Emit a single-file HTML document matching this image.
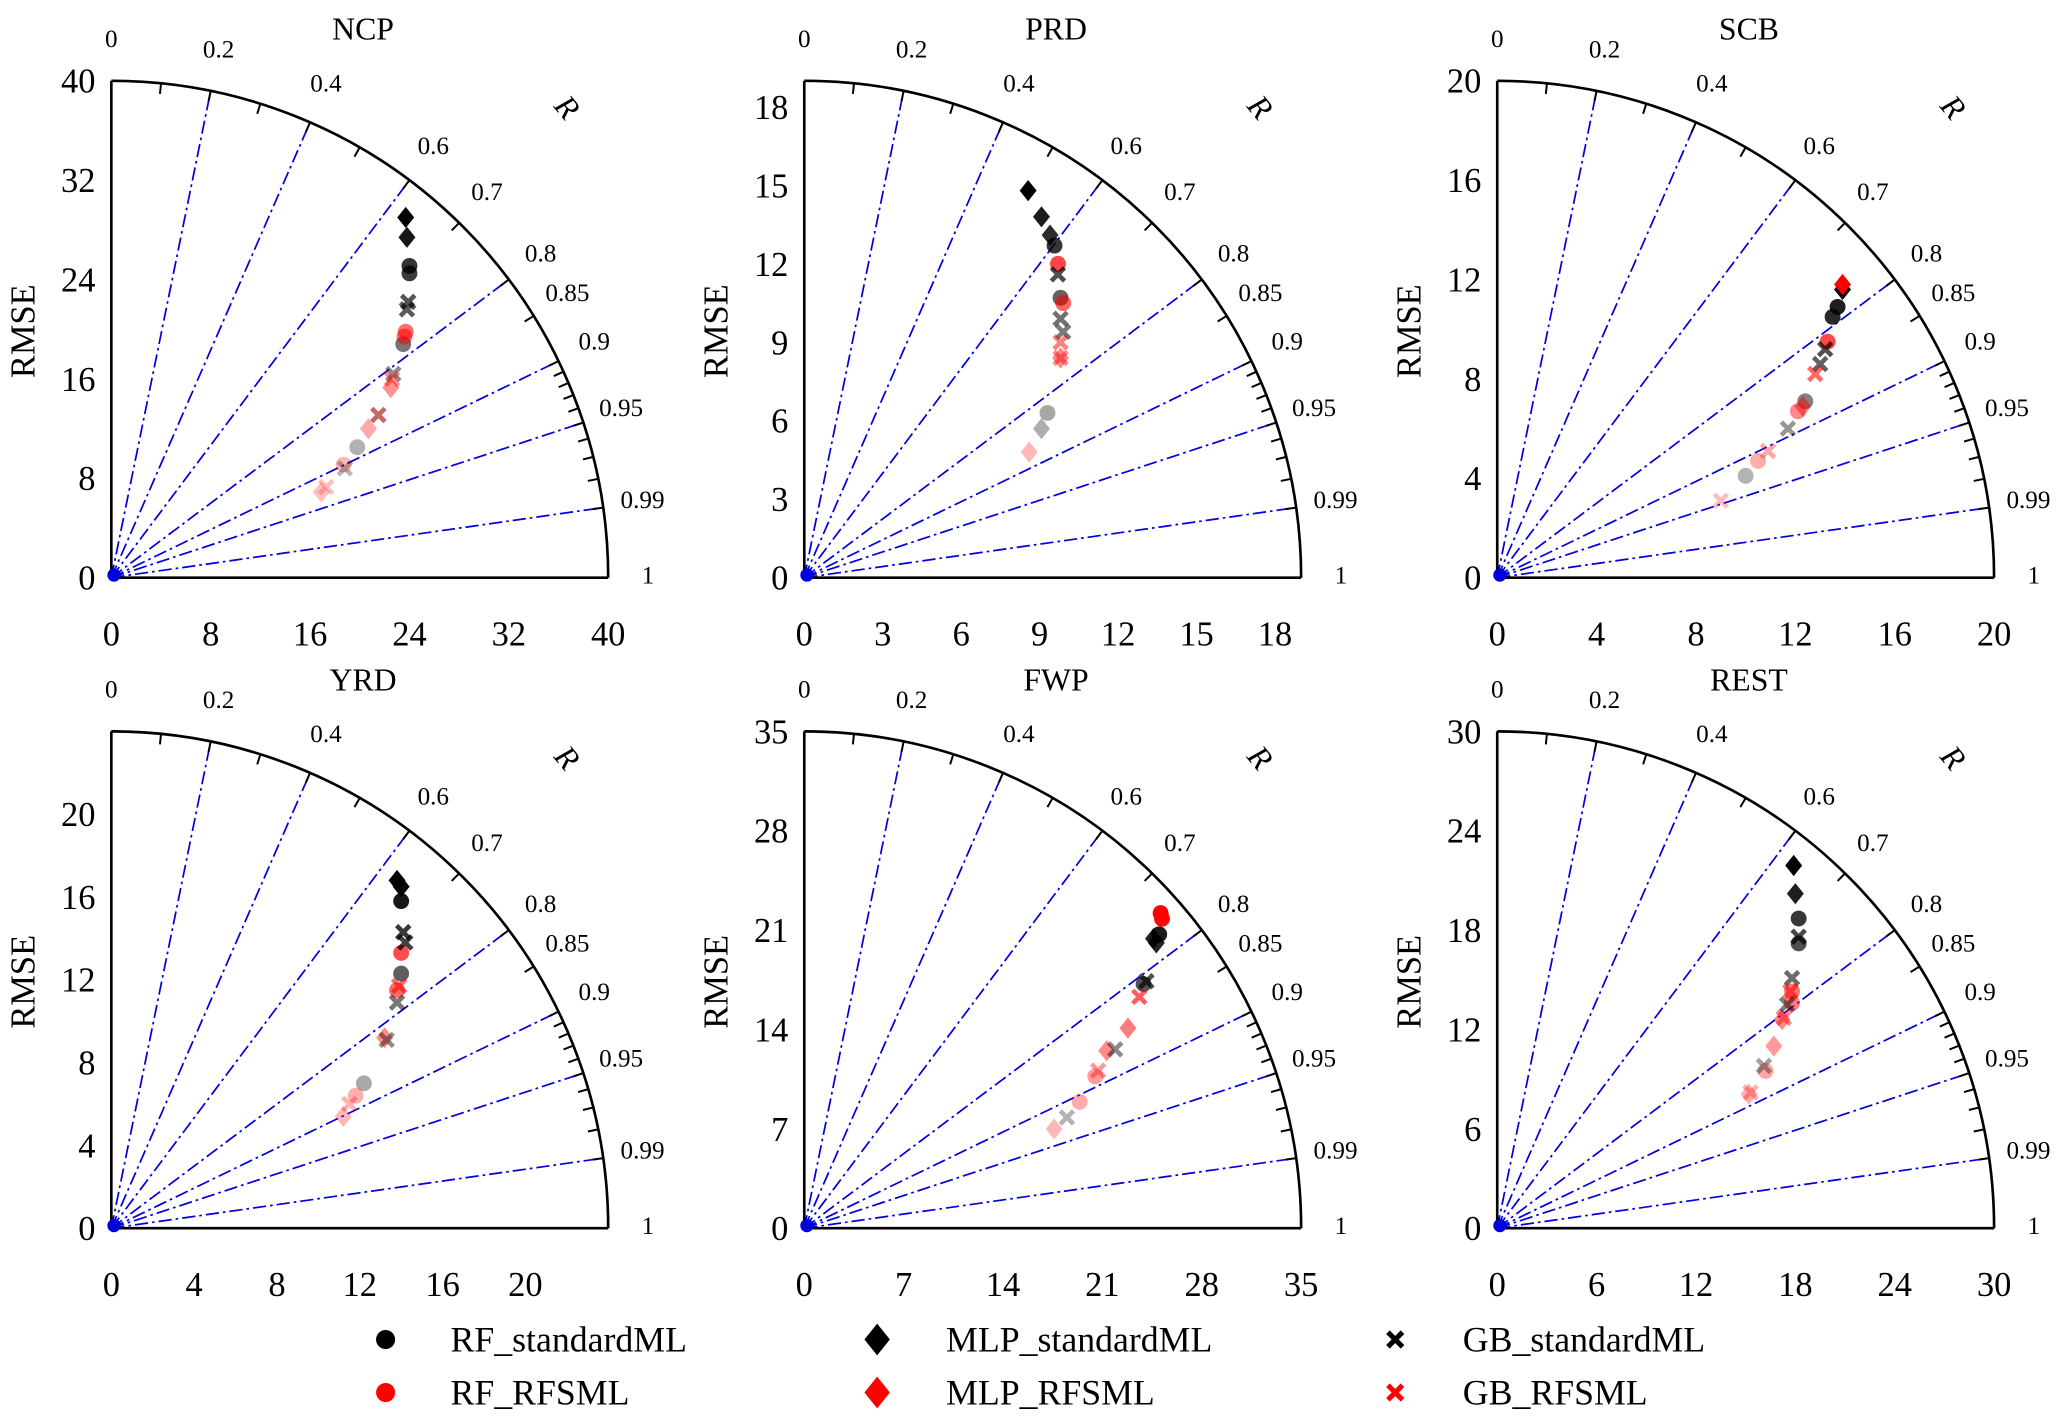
<!DOCTYPE html>
<html><head><meta charset="utf-8"><style>
html,body{margin:0;padding:0;background:#fff}
svg{display:block}
text{font-family:"Liberation Serif",serif;fill:#000}
</style></head><body>
<svg id="chart" width="2067" height="1423" viewBox="0 0 1560 1074" xmlns="http://www.w3.org/2000/svg"></svg>
<script>
// ---- data (x = horizontal data coordinate, y = vertical/RMSE coordinate) ----
const panelNames = ["NCP","PRD","SCB","YRD","FWP","REST"];
const panelMax = [40,19,20,24,35,30];
const tickLabels = [
  [0,8,16,24,32,40],[0,3,6,9,12,15,18],[0,4,8,12,16,20],
  [0,4,8,12,16,20],[0,7,14,21,28,35],[0,6,12,18,24,30]];
const corrLabels = [0,0.2,0.4,0.6,0.7,0.8,0.85,0.9,0.95,0.99,1];
const corrLines = [0.2,0.4,0.6,0.8,0.9,0.95,0.99];
const seriesNames = ["RF_standardML","RF_RFSML","MLP_standardML","MLP_RFSML","GB_standardML","GB_RFSML"];
const RF_std = [
  [[24.0,25.1],[24.0,24.5],[23.5,18.8],[19.8,10.5]],
  [[9.57,12.7],[9.8,10.7],[9.3,6.3]],
  [[13.7,10.9],[13.5,10.5],[12.4,7.1],[10.0,4.1]],
  [[14.0,15.8],[14.0,12.3],[12.2,7.0]],
  [[25.0,20.7],[23.9,17.2]],
  [[18.2,18.7],[18.2,17.2]]];
const RF_rfs = [
  [[23.7,19.8],[23.6,19.4],[18.7,9.1]],
  [[9.7,12.0],[9.9,10.5]],
  [[13.3,9.5],[12.1,6.7],[10.5,4.7]],
  [[14.0,13.3],[13.8,11.5],[11.8,6.4]],
  [[25.1,22.2],[25.2,21.8],[20.5,10.7],[19.4,8.9]],
  [[17.8,14.3],[17.8,13.6],[16.2,9.5]]];
const MLP_std = [
  [[23.7,29.0],[23.8,27.4]],
  [[8.56,14.8],[9.07,13.8],[9.4,13.1],[9.07,5.7]],
  [[13.9,11.6]],
  [[13.8,16.8],[14.0,16.5]],
  [[24.6,20.4],[24.8,20.1]],
  [[17.9,21.9],[18.0,20.2]]];
const MLP_rfs = [
  [[22.5,15.3],[20.7,12.0],[16.9,6.9]],
  [[9.8,8.4],[8.6,4.8]],
  [[13.9,11.8],[12.3,6.9]],
  [[13.2,9.2],[11.2,5.4]],
  [[22.8,14.1],[21.3,12.5],[17.6,7.0]],
  [[17.2,12.6],[16.7,11.0],[15.2,8.1]]];
const GB_std = [
  [[23.9,22.2],[23.8,21.6],[22.7,16.4],[21.5,13.1],[18.8,8.8]],
  [[9.7,11.6],[9.8,9.9],[9.9,9.4]],
  [[13.2,9.2],[13.0,8.6],[11.7,6.0]],
  [[14.1,14.3],[14.2,13.8],[13.8,10.9],[13.3,9.1]],
  [[24.1,17.4],[21.9,12.6],[18.5,7.8]],
  [[18.2,17.6],[17.8,15.1],[17.5,13.5],[16.1,9.8]]];
const GB_rfs = [
  [[22.6,16.0],[21.5,13.1],[17.3,7.3]],
  [[9.8,9.0],[9.8,8.4]],
  [[12.8,8.2],[10.9,5.1],[9.0,3.1]],
  [[13.9,11.7],[11.5,6.0]],
  [[23.6,16.3],[20.7,11.1]],
  [[17.7,14.3],[17.3,12.7],[15.3,8.2]]];
const allSeries = [RF_std,RF_rfs,MLP_std,MLP_rfs,GB_std,GB_rfs];

// ---- layout ----
const NS="http://www.w3.org/2000/svg";
const svg=document.getElementById('chart');
const origins=[[84,436],[607,436],[1130,436],[84,927],[607,927],[1130,927]];
const RAD=375;
function mk(tag,attrs,parent){const e=document.createElementNS(NS,tag);for(const k in attrs)e.setAttribute(k,attrs[k]);(parent||svg).appendChild(e);return e;}

panelNames.forEach((name,p)=>{
  const [ox,oy]=origins[p];const mx=panelMax[p];
  const g=mk('g',{});
  
  
  const sx=v=>ox+v/mx*RAD, sy=v=>oy-v/mx*RAD;
  corrLines.forEach(r=>{
    const a=Math.acos(r);
    const l=mk('line',{x1:ox,y1:oy,x2:ox+RAD*Math.cos(a),y2:oy-RAD*Math.sin(a),stroke:'#0000dd','stroke-width':1.3,'stroke-dasharray':'10,3,2,3'},g);
    
    
  });
  const arc=mk('path',{d:`M${ox},${oy-RAD} A${RAD},${RAD} 0 0 1 ${ox+RAD},${oy}`,fill:'none',stroke:'#000','stroke-width':2},g);
  
  
  const ax=mk('path',{d:`M${ox},${oy-RAD} L${ox},${oy} L${ox+RAD},${oy}`,fill:'none',stroke:'#000','stroke-width':2},g);
  
  
  const tks=[0.1,0.2,0.3,0.4,0.5,0.6,0.7,0.8,0.85,0.9,0.91,0.92,0.93,0.94,0.95,0.96,0.97,0.98,0.99];
  tks.forEach(r=>{const a=Math.acos(r);const c=Math.cos(a),s=Math.sin(a);
    mk('line',{x1:ox+RAD*c,y1:oy-RAD*s,x2:ox+(RAD-8)*c,y2:oy-(RAD-8)*s,stroke:'#000','stroke-width':1.5},g);});
  corrLabels.forEach(r=>{const a=Math.acos(r);const rr=RAD*1.08;
    const t=mk('text',{x:ox+rr*Math.cos(a),y:oy-rr*Math.sin(a),'text-anchor':'middle','dominant-baseline':'middle','font-size':19},g);
    t.textContent=String(r);
    
    });
  const rl=mk('text',{x:ox+338,y:oy-350,'font-size':24,'font-style':'italic','text-anchor':'middle',transform:`rotate(50 ${ox+338} ${oy-350})`},g);
  rl.textContent='R';
  
  
  tickLabels[p].forEach(v=>{
    const tx=mk('text',{x:sx(v),y:oy+51,'text-anchor':'middle','font-size':26},g);tx.textContent=v;
    
    
    const ty=mk('text',{x:ox-12,y:sy(v)+9,'text-anchor':'end','font-size':26},g);ty.textContent=v;
    
    
  });
  const yl=mk('text',{x:ox-58,y:oy-186,'text-anchor':'middle','font-size':26,transform:`rotate(-90 ${ox-58} ${oy-186})`},g);
  yl.textContent='RMSE';
  
  
  const tt=mk('text',{x:ox+190,y:oy-406,'text-anchor':'middle','font-size':24},g);
  tt.textContent=name;
  
  
  mk('circle',{cx:ox+2,cy:oy-2,r:5,fill:'#0000dd'},g);
  let ymax=0;allSeries.forEach(s=>s[p].forEach(pt=>{if(pt[1]>ymax)ymax=pt[1];}));
  allSeries.forEach((s,si)=>{
    const col=(si%2===0)?'#000':'#f00';
    s[p].forEach(pt=>{
      const x=sx(pt[0]),y=sy(pt[1]);
      const op=0.2+0.8*Math.pow(pt[1]/ymax,2);
      const m=drawMarker(g,Math.floor(si/2),x,y,col,op);
      
      
    });
  });
});
function drawMarker(g,type,x,y,col,op,scale){
  scale=scale||1;
  if(type===0) return mk('circle',{cx:x,cy:y,r:6*scale,fill:col,'fill-opacity':op},g);
  if(type===1){const d=8*scale;return mk('path',{d:`M${x},${y-d} L${x+d*0.8},${y} L${x},${y+d} L${x-d*0.8},${y}Z`,fill:col,'fill-opacity':op},g);}
  const d=5*scale;
  return mk('path',{d:`M${x-d},${y-d}L${x+d},${y+d}M${x+d},${y-d}L${x-d},${y+d}`,stroke:col,'stroke-width':3.5*scale,'stroke-opacity':op,fill:'none'},g);
}
const legX=[[291,340],[662,714],[1053,1104]];
seriesNames.forEach((n,i)=>{
  const col=Math.floor(i/2),row=i%2;
  const [mxp,tx]=legX[col];const y=1011+row*40;
  const g=mk('g',{});
  
  
  drawMarker(g,col,mxp,y,row===0?'#000':'#f00',1,col===1?1.5:(col===0?1.2:1.1));
  const t=mk('text',{x:tx,y:y+9,'font-size':27},g);t.textContent=n;
});
</script>
</body></html>
